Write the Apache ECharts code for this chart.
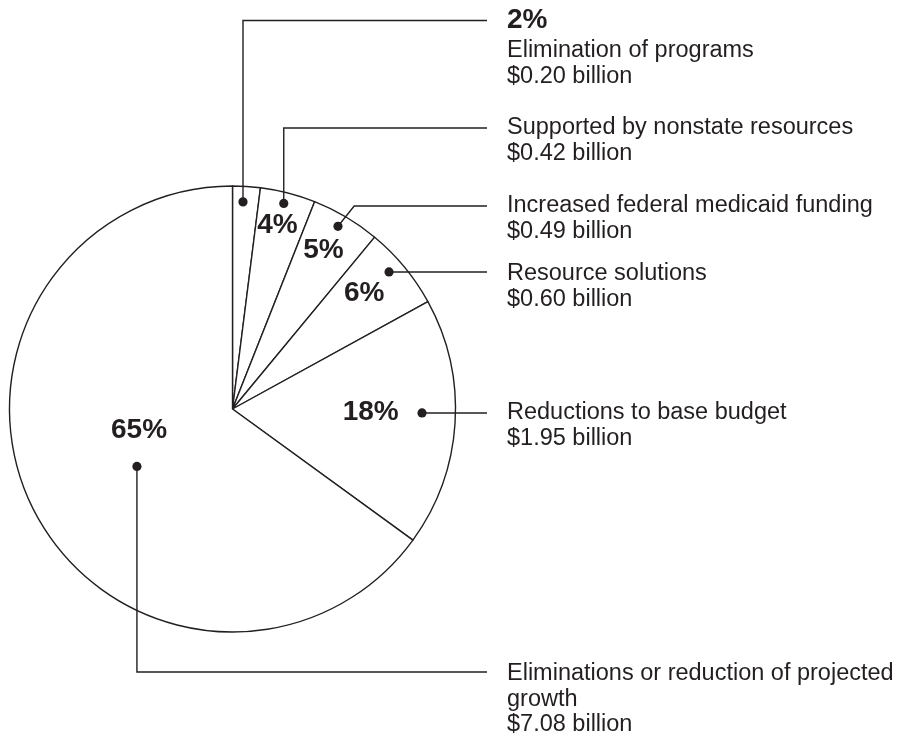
<!DOCTYPE html>
<html>
<head>
<meta charset="utf-8">
<script src="https://cdn.jsdelivr.net/npm/echarts@6/dist/echarts.min.js"></script>
<style>
    html, body { margin: 0; padding: 0; background: #fff; }
    #chart { width: 913px; height: 740px; }
</style>
</head>
<body>
<div id="chart"></div>
<script>
//--------------------------------
// Data
//--------------------------------
const names = [
    'Elimination of programs',
    'Supported by nonstate resources',
    'Increased federal medicaid funding',
    'Resource solutions',
    'Reductions to base budget',
    'Eliminations or reduction of projected\ngrowth'
];
const percents = [2, 4, 5, 6, 18, 65];
const billions = ['0.20', '0.42', '0.49', '0.60', '1.95', '7.08'];

//--------------------------------
// Layout (not data)
//--------------------------------
const cx = 232.5, cy = 409, R = 223;
const ink = '#231f20';
const font = 'Liberation Sans, Arial, Helvetica, sans-serif';

// percent label: [angle offset from slice middle, radius fraction]
const pctPos = [null, [-0.7, 0.85], [-0.8, 0.82], [-1.6, 0.785], [-2.2, 0.62], [14, 0.43]];
// dot: [angle offset, radius fraction]
const dotPos = [[-0.7, 0.93], [-0.4, 0.95], [-0.6, 0.946], [-1.6, 0.933], [-2.4, 0.85], [-4, 0.5]];
const route = ['v', 'v', 'd', 'h', 'h', 'v'];
const lineY = [20.5, 128, 206, 272, 413, 672];
const textY = [51, 128, 206, 274, 413, 674];
const lineEndX = 487, textX = 507;

//--------------------------------
// Local Function
//--------------------------------
const total = percents.reduce((a, b) => a + b, 0);
let midAngle = [];
let acc = 0;
percents.forEach((v) => {
    midAngle.push((acc + v / 2) / total * 360);
    acc += v;
});

const polar = (deg, frac) => {
    let a = deg * Math.PI / 180;
    return [cx + R * frac * Math.sin(a), cy - R * frac * Math.cos(a)];
};

let graphics = [];
percents.forEach((v, i) => {
    let dot = polar(midAngle[i] + dotPos[i][0], dotPos[i][1]);
    let pts;
    if (route[i] === 'v') {
        pts = [dot, [dot[0], lineY[i]], [lineEndX, lineY[i]]];
    } else if (route[i] === 'd') {
        pts = [dot, [dot[0] + (dot[1] - lineY[i]) * 0.8, lineY[i]], [lineEndX, lineY[i]]];
    } else {
        pts = [dot, [lineEndX, dot[1]]];
    }
    graphics.push({
        type: 'polyline',
        z: 10,
        shape: { points: pts },
        style: { stroke: ink, lineWidth: 1.4, fill: null },
        silent: true
    });
    graphics.push({
        type: 'circle',
        z: 11,
        shape: { cx: dot[0], cy: dot[1], r: 4.6 },
        style: { fill: ink },
        silent: true
    });
    graphics.push({
        type: 'text',
        z: 10,
        x: textX,
        y: textY[i] - 13,
        style: {
            text: names[i] + '\n$' + billions[i] + ' billion',
            fontSize: 23.5,
            fontFamily: font,
            lineHeight: 25.5,
            fill: ink,
            align: 'left',
            verticalAlign: 'top'
        },
        silent: true
    });
});

let myChart = echarts.init(document.getElementById('chart'));
let options = {
    animation: false,
    series: [
        {
            type: 'pie',
            center: [cx, cy],
            radius: R,
            startAngle: 90,
            clockwise: true,
            avoidLabelOverlap: false,
            silent: true,
            itemStyle: {
                color: '#fff',
                borderColor: ink,
                borderWidth: 1.4
            },
            label: {
                show: true,
                formatter: '{c}%',
                fontSize: 28,
                fontWeight: 'bold',
                fontFamily: font,
                color: ink
            },
            labelLine: { show: false },
            labelLayout: (params) => {
                let i = params.dataIndex;
                if (i === 0) {
                    return { x: textX, y: lineY[0], align: 'left', verticalAlign: 'middle' };
                }
                let p = polar(midAngle[i] + pctPos[i][0], pctPos[i][1]);
                return { x: p[0], y: p[1], align: 'center', verticalAlign: 'middle' };
            },
            data: percents.map((v, i) => ({ value: v, name: names[i] }))
        }
    ],
    graphic: { elements: graphics }
};
myChart.setOption(options);
</script>
</body>
</html>
